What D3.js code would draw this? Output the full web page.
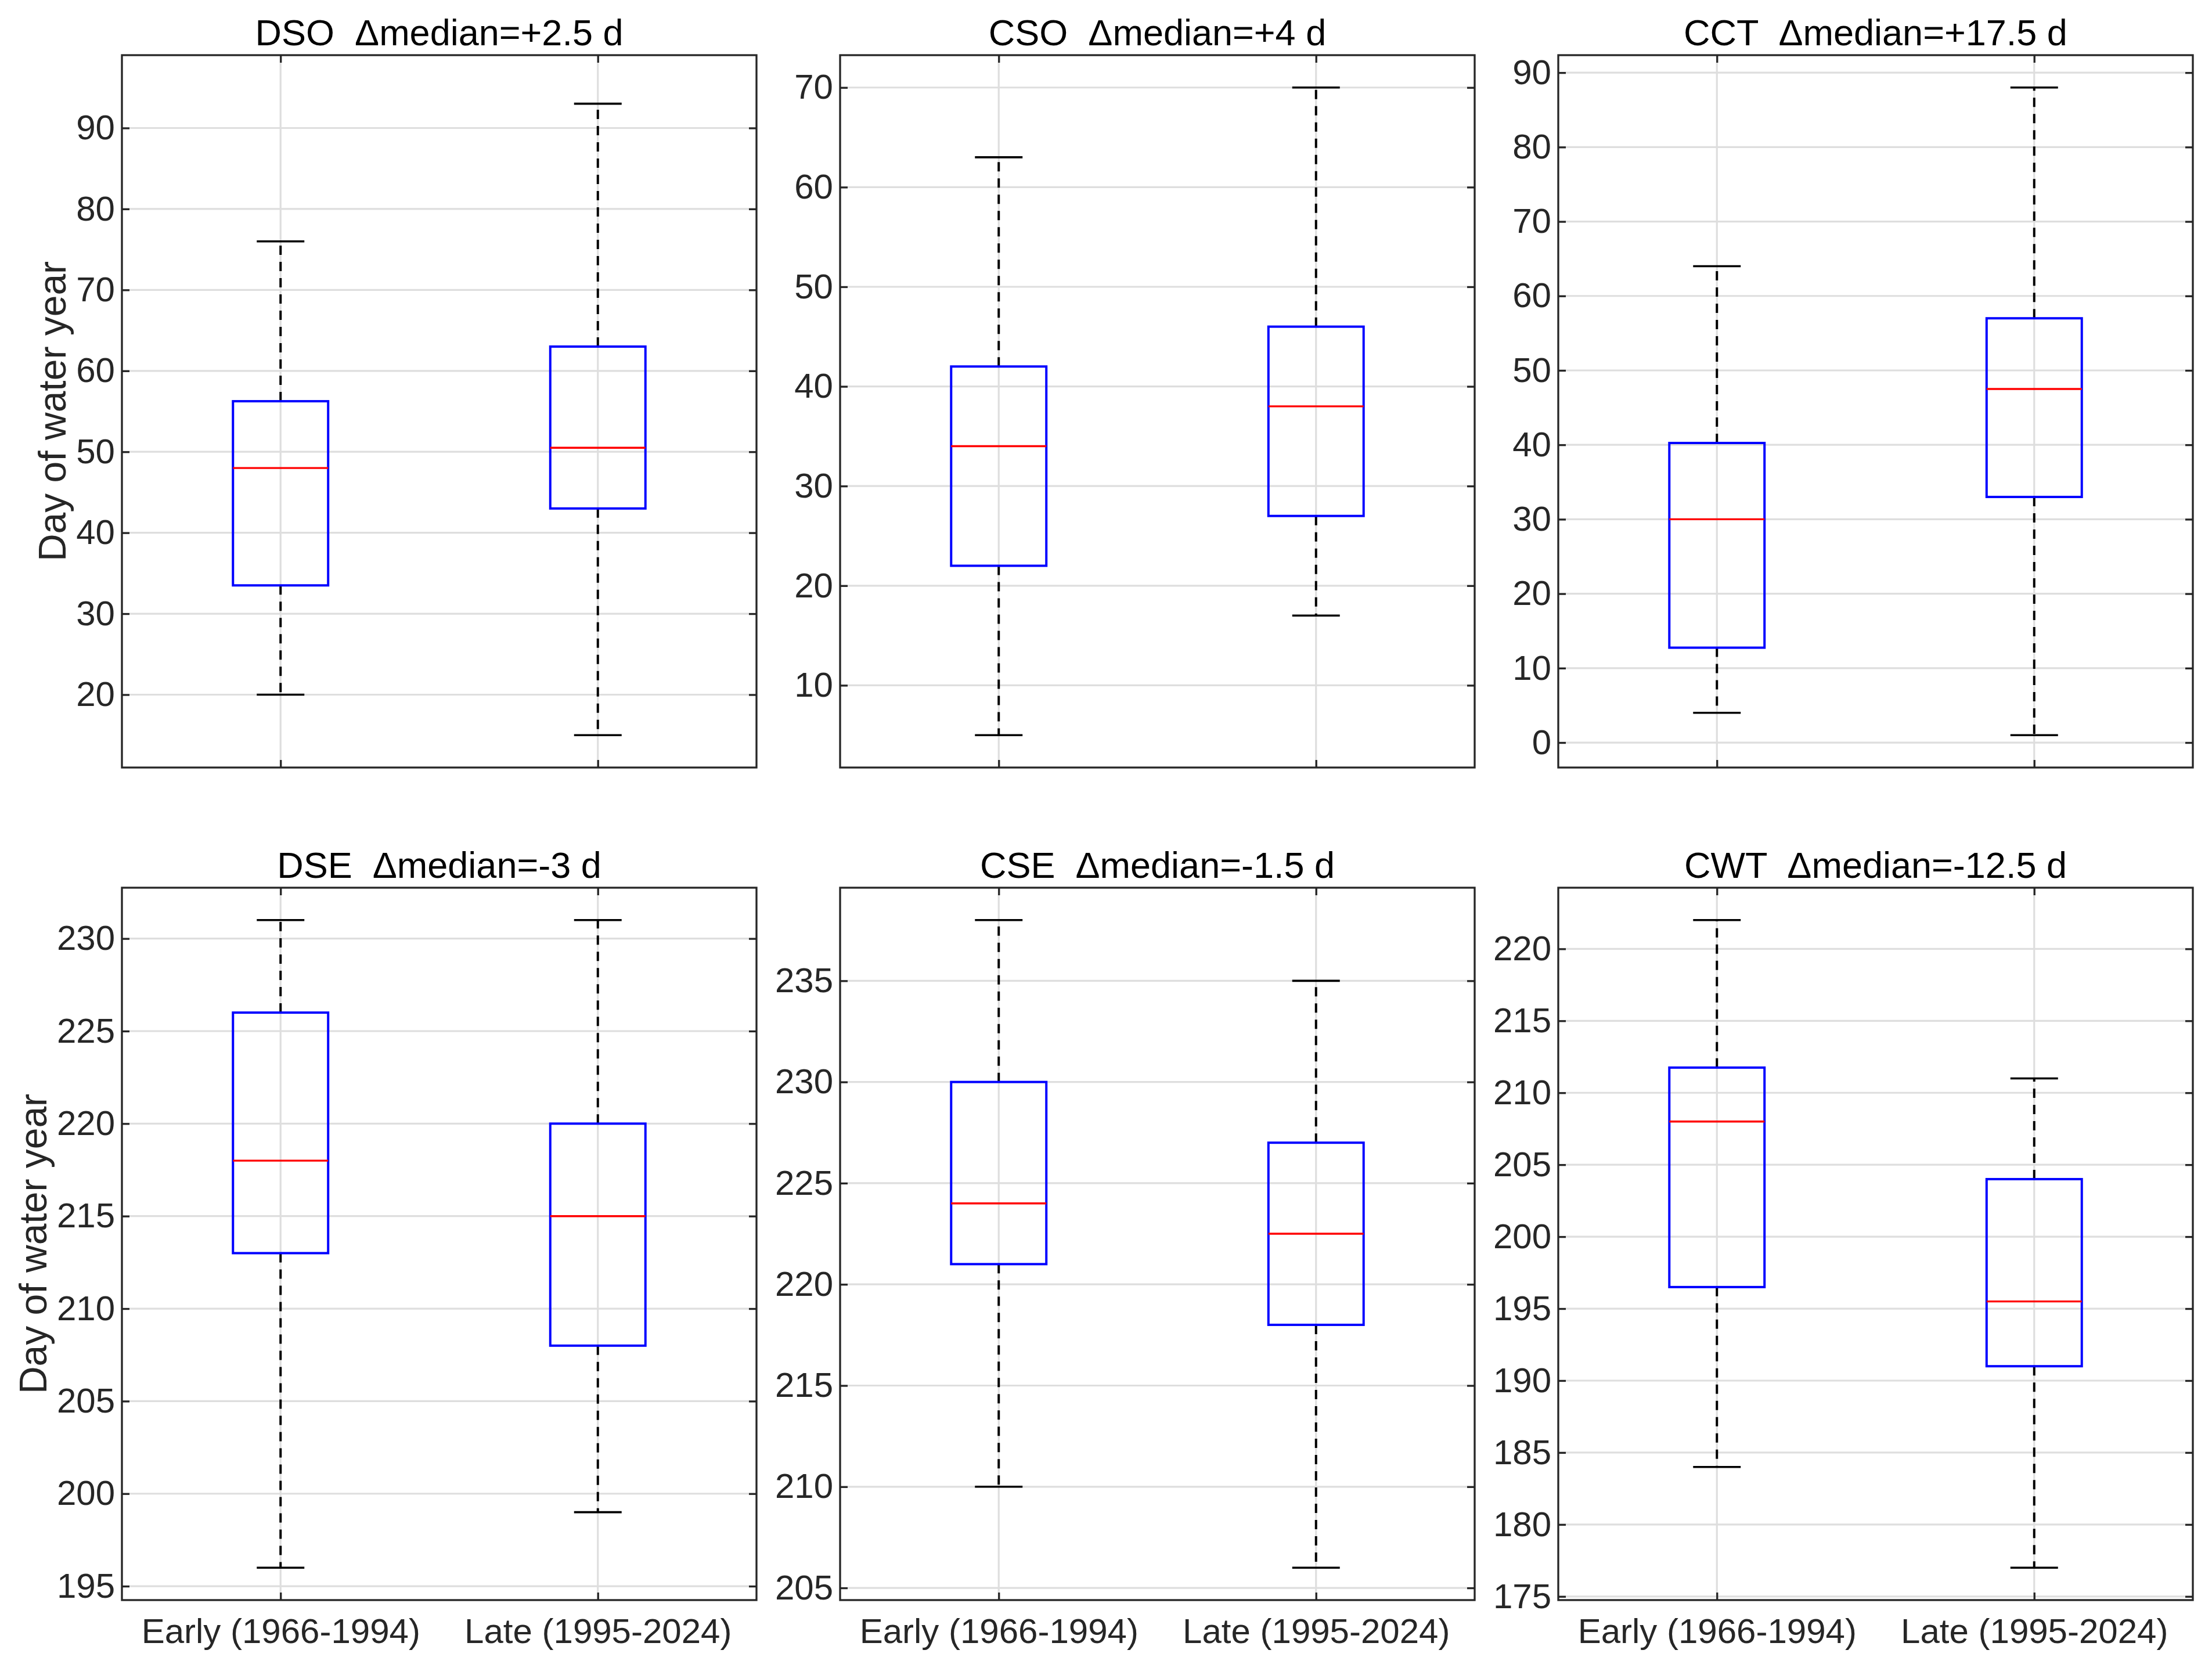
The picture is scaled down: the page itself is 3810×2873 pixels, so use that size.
<!DOCTYPE html>
<html>
<head>
<meta charset="utf-8">
<script src="https://cdn.jsdelivr.net/npm/d3@7"></script>
<style>
  body { margin: 0; background: #ffffff; }
  text { font-family: "Liberation Sans", Arial, Helvetica, sans-serif; }
</style>
</head>
<body>
<div id="chart"></div>
<script>
// panel names, in order (row by row)
var names = ["DSO", "CSO", "CCT", "DSE", "CSE", "CWT"];
var categories = ["Early (1966-1994)", "Late (1995-2024)"];

// box statistics per panel: [early, late]
var whiskerLow  = [[20, 15], [5, 17], [4, 1], [196, 199], [210, 206], [184, 177]];
var q1          = [[33.5, 43], [22, 27], [12.75, 33], [213, 208], [221, 218], [196.5, 191]];
var medians     = [[48, 50.5], [34, 38], [30, 47.5], [218, 215], [224, 222.5], [208, 195.5]];
var q3          = [[56.25, 63], [42, 46], [40.25, 57], [226, 220], [230, 227], [211.75, 204]];
var whiskerHigh = [[76, 93], [63, 70], [64, 88], [231, 231], [238, 235], [222, 211]];

// y limits and tick values per panel
var yLimits = [[11, 99], [1.75, 73.25], [-3.35, 92.35], [194.25, 232.75], [204.4, 239.6], [174.75, 224.25]];
var yTicks = [
  [20, 30, 40, 50, 60, 70, 80, 90],
  [10, 20, 30, 40, 50, 60, 70],
  [0, 10, 20, 30, 40, 50, 60, 70, 80, 90],
  [195, 200, 205, 210, 215, 220, 225, 230],
  [205, 210, 215, 220, 225, 230, 235],
  [175, 180, 185, 190, 195, 200, 205, 210, 215, 220]
];

var width = 3810, height = 2873;
var colX = [210, 1447, 2684];
var rowY = [95, 1529];
var pw = 1093, ph = 1227;
var axisColor = "#262626";
var gridColor = "#dedede";

var svg = d3.select("#chart").append("svg")
  .attr("width", width).attr("height", height)
  .style("background", "#ffffff");

names.forEach(function(name, p) {
  var row = Math.floor(p / 3), col = p % 3;
  var g = svg.append("g").attr("transform", "translate(" + colX[col] + "," + rowY[row] + ")");

  var x = d3.scaleLinear().domain([0.5, 2.5]).range([0, pw]);
  var y = d3.scaleLinear().domain(yLimits[p]).range([ph, 0]);

  // gridlines
  g.append("g").selectAll("line.hg").data(yTicks[p]).enter().append("line")
    .attr("x1", 0).attr("x2", pw)
    .attr("y1", function(d) { return y(d); }).attr("y2", function(d) { return y(d); })
    .attr("stroke", gridColor).attr("stroke-width", 3.2);
  g.append("g").selectAll("line.vg").data([1, 2]).enter().append("line")
    .attr("y1", 0).attr("y2", ph)
    .attr("x1", function(d) { return x(d); }).attr("x2", function(d) { return x(d); })
    .attr("stroke", gridColor).attr("stroke-width", 3.2);

  // boxes
  var idx = [0, 1];
  var bw = x(1.15) - x(1), cw = x(1.075) - x(1);
  var boxes = g.append("g").selectAll("g").data(idx).enter().append("g");

  boxes.append("line").attr("class", "whisker")
    .attr("x1", function(i) { return x(i + 1); }).attr("x2", function(i) { return x(i + 1); })
    .attr("y1", function(i) { return y(q3[p][i]); }).attr("y2", function(i) { return y(whiskerHigh[p][i]); });
  boxes.append("line").attr("class", "whisker")
    .attr("x1", function(i) { return x(i + 1); }).attr("x2", function(i) { return x(i + 1); })
    .attr("y1", function(i) { return y(q1[p][i]); }).attr("y2", function(i) { return y(whiskerLow[p][i]); });
  boxes.selectAll("line.whisker")
    .attr("stroke", "#000000").attr("stroke-width", 4).attr("stroke-dasharray", "16,12");

  boxes.append("line")
    .attr("x1", function(i) { return x(i + 1) - cw; }).attr("x2", function(i) { return x(i + 1) + cw; })
    .attr("y1", function(i) { return y(whiskerHigh[p][i]); }).attr("y2", function(i) { return y(whiskerHigh[p][i]); })
    .attr("stroke", "#000000").attr("stroke-width", 3.6);
  boxes.append("line")
    .attr("x1", function(i) { return x(i + 1) - cw; }).attr("x2", function(i) { return x(i + 1) + cw; })
    .attr("y1", function(i) { return y(whiskerLow[p][i]); }).attr("y2", function(i) { return y(whiskerLow[p][i]); })
    .attr("stroke", "#000000").attr("stroke-width", 3.6);

  boxes.append("rect")
    .attr("x", function(i) { return x(i + 1) - bw; })
    .attr("width", 2 * bw)
    .attr("y", function(i) { return y(q3[p][i]); })
    .attr("height", function(i) { return y(q1[p][i]) - y(q3[p][i]); })
    .attr("fill", "none").attr("stroke", "#0000ff").attr("stroke-width", 4);

  boxes.append("line")
    .attr("x1", function(i) { return x(i + 1) - bw; }).attr("x2", function(i) { return x(i + 1) + bw; })
    .attr("y1", function(i) { return y(medians[p][i]); }).attr("y2", function(i) { return y(medians[p][i]); })
    .attr("stroke", "#ff0000").attr("stroke-width", 3.4);

  // axes (ticks pointing inward)
  var left = g.append("g")
    .call(d3.axisLeft(y).tickValues(yTicks[p]).tickSize(-13).tickPadding(12));
  g.append("g").attr("transform", "translate(" + pw + ",0)")
    .call(d3.axisRight(y).tickValues(yTicks[p]).tickSize(-13).tickFormat(""));
  g.append("g").call(d3.axisTop(x).tickValues([1, 2]).tickSize(-13).tickFormat(""));
  g.append("g").attr("transform", "translate(0," + ph + ")")
    .call(d3.axisBottom(x).tickValues([1, 2]).tickSize(-13).tickPadding(31)
      .tickFormat(function(d) { return row === 1 ? categories[d - 1] : ""; }));

  g.selectAll(".domain").remove();
  g.selectAll(".tick line").attr("stroke", axisColor).attr("stroke-width", 3.3);
  g.selectAll(".tick text").attr("fill", axisColor).style("font-size", "60px")
    .style("font-family", '"Liberation Sans", Arial, Helvetica, sans-serif');

  // frame
  g.append("rect").attr("width", pw).attr("height", ph)
    .attr("fill", "none").attr("stroke", axisColor).attr("stroke-width", 3.3);

  // title
  var d = medians[p][1] - medians[p][0];
  g.append("text")
    .attr("x", pw / 2).attr("y", -17)
    .attr("text-anchor", "middle")
    .style("font-size", "63px").style("white-space", "pre")
    .attr("fill", "#000000")
    .text(name + "  \u0394median=" + (d > 0 ? "+" : "") + d + " d");

  // y label on left column
  if (col === 0) {
    var bb = left.node().getBBox();
    var cx = bb.x - 41;
    g.append("text")
      .attr("transform", "translate(" + cx + "," + (ph / 2) + ") rotate(-90)")
      .attr("text-anchor", "middle")
      .attr("dominant-baseline", "central")
      .attr("fill", axisColor)
      .style("font-size", "66px")
      .text("Day of water year");
  }
});
</script>
</body>
</html>
